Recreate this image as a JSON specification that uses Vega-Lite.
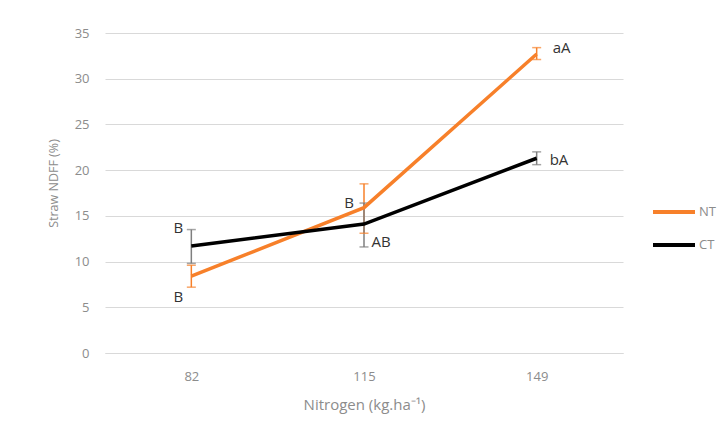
{
  "$schema": "https://vega.github.io/schema/vega-lite/v6.json",
  "width": 518,
  "height": 320,
  "autosize": {"type": "none"},
  "padding": {"left": 105, "top": 33, "right": 100, "bottom": 84},
  "background": "#ffffff",
  "config": {
    "font": "Open Sans",
    "view": {"stroke": null},
    "axis": {"labelColor": "#8c8c8c", "titleColor": "#8c8c8c", "labelFontSize": 13, "titleFontSize": 15, "titleFontWeight": "normal", "gridColor": "#d9d9d9", "gridWidth": 1, "ticks": false, "tickSize": 0}
  },
  "data": {
    "values": [
      {"N": "82", "series": "NT", "value": 8.4, "lo": 7.2, "hi": 9.6, "label": "B"},
      {"N": "115", "series": "NT", "value": 15.9, "lo": 13.1, "hi": 18.5, "label": "B"},
      {"N": "149", "series": "NT", "value": 32.7, "lo": 32.1, "hi": 33.4, "label": "aA"},
      {"N": "82", "series": "CT", "value": 11.7, "lo": 9.8, "hi": 13.5, "label": "B"},
      {"N": "115", "series": "CT", "value": 14.1, "lo": 11.6, "hi": 16.4, "label": "AB"},
      {"N": "149", "series": "CT", "value": 21.3, "lo": 20.6, "hi": 22.0, "label": "bA"}
    ]
  },
  "encoding": {
    "x": {"field": "N", "type": "ordinal", "sort": ["82", "115", "149"], "scale": {"type": "point", "padding": 0.5},
      "axis": {"title": "Nitrogen (kg.ha⁻¹)", "labelAngle": 0, "grid": false, "domain": true, "domainColor": "#d9d9d9", "domainWidth": 1, "labelPadding": 17, "titlePadding": 14}}
  },
  "layer": [
    {
      "mark": {"type": "rule", "strokeWidth": 1.5},
      "encoding": {
        "y": {"field": "lo", "type": "quantitative"},
        "y2": {"field": "hi"},
        "color": {"condition": {"test": "datum.series === 'NT'", "value": "#f7802a"}, "value": "#7f7f7f"}
      }
    },
    {
      "mark": {"type": "tick", "size": 9, "thickness": 1.5},
      "encoding": {
        "y": {"field": "lo", "type": "quantitative"},
        "color": {"condition": {"test": "datum.series === 'NT'", "value": "#f7802a"}, "value": "#7f7f7f"}
      }
    },
    {
      "mark": {"type": "tick", "size": 9, "thickness": 1.5},
      "encoding": {
        "y": {"field": "hi", "type": "quantitative"},
        "color": {"condition": {"test": "datum.series === 'NT'", "value": "#f7802a"}, "value": "#7f7f7f"}
      }
    },
    {
      "mark": {"type": "line", "strokeWidth": 3.5},
      "encoding": {
        "y": {"field": "value", "type": "quantitative", "scale": {"domain": [0, 35]},
          "axis": {"title": "Straw NDFF (%)", "titleFontSize": 12.5, "values": [0, 5, 10, 15, 20, 25, 30, 35], "domain": false, "grid": true, "labelPadding": 16, "titlePadding": 14, "titleY": 150}},
        "color": {"field": "series", "type": "nominal", "scale": {"domain": ["NT", "CT"], "range": ["#f7802a", "#000000"]},
          "legend": {"title": null, "orient": "none", "legendX": 546, "legendY": 156, "symbolType": "stroke", "symbolSize": 1764, "symbolStrokeWidth": 4, "labelColor": "#8c8c8c", "labelFontSize": 13, "labelOffset": 2, "rowPadding": 2, "padding": 0}}
      }
    },
    {
      "transform": [{"filter": "datum.series === 'NT' && datum.N === '82'"}],
      "mark": {"type": "text", "fontSize": 15, "color": "#333333", "dx": -13, "dy": 10, "baseline": "middle"},
      "encoding": {"y": {"field": "lo", "type": "quantitative"}, "text": {"field": "label"}}
    },
    {
      "transform": [{"filter": "datum.series === 'CT' && datum.N === '82'"}],
      "mark": {"type": "text", "fontSize": 15, "color": "#333333", "dx": -13, "dy": -2, "baseline": "middle"},
      "encoding": {"y": {"field": "hi", "type": "quantitative"}, "text": {"field": "label"}}
    },
    {
      "transform": [{"filter": "datum.series === 'NT' && datum.N === '115'"}],
      "mark": {"type": "text", "fontSize": 15, "color": "#333333", "dx": -15, "dy": -5, "baseline": "middle"},
      "encoding": {"y": {"field": "value", "type": "quantitative"}, "text": {"field": "label"}}
    },
    {
      "transform": [{"filter": "datum.series === 'CT' && datum.N === '115'"}],
      "mark": {"type": "text", "fontSize": 15, "color": "#333333", "dx": 17, "dy": -5, "baseline": "middle"},
      "encoding": {"y": {"field": "lo", "type": "quantitative"}, "text": {"field": "label"}}
    },
    {
      "transform": [{"filter": "datum.series === 'NT' && datum.N === '149'"}],
      "mark": {"type": "text", "fontSize": 15, "color": "#333333", "dx": 16, "dy": 0, "align": "left", "baseline": "middle"},
      "encoding": {"y": {"field": "hi", "type": "quantitative"}, "text": {"field": "label"}}
    },
    {
      "transform": [{"filter": "datum.series === 'CT' && datum.N === '149'"}],
      "mark": {"type": "text", "fontSize": 15, "color": "#333333", "dx": 13, "dy": 2, "align": "left", "baseline": "middle"},
      "encoding": {"y": {"field": "value", "type": "quantitative"}, "text": {"field": "label"}}
    }
  ]
}
